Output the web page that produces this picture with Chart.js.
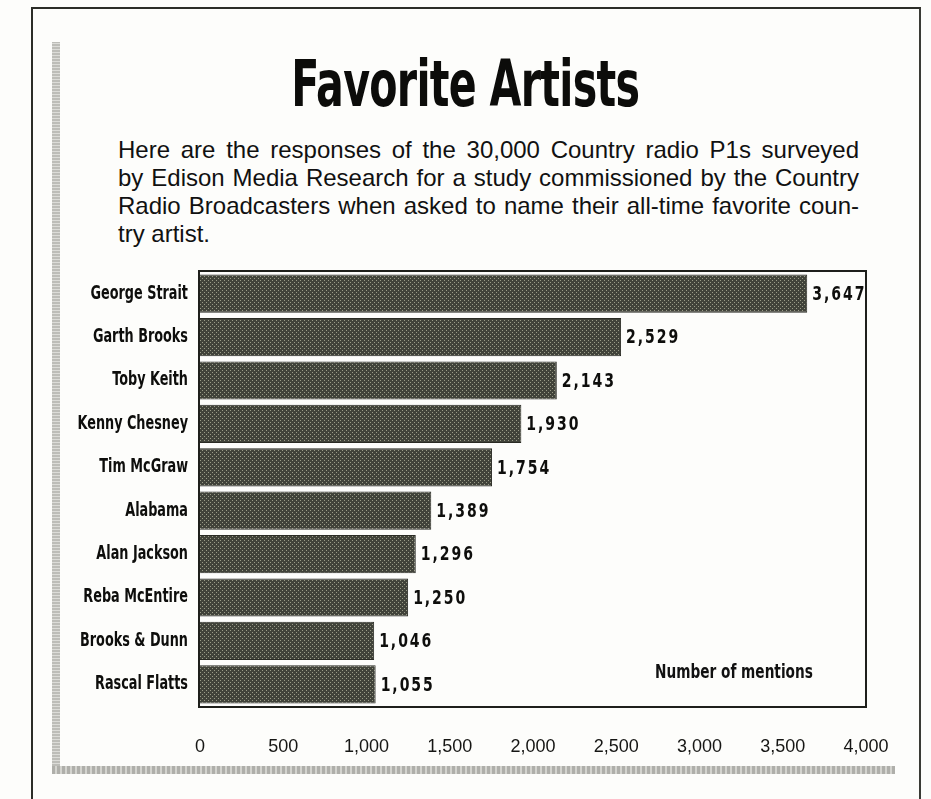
<!DOCTYPE html>
<html>
<head>
<meta charset="utf-8">
<script src="https://cdn.jsdelivr.net/npm/chart.js@4/dist/chart.umd.min.js"></script>
<style>
  html, body { margin: 0; padding: 0; background: #fdfdfb; }
  #page { position: relative; width: 931px; height: 799px; overflow: hidden; background: #fdfdfb; }
  #chartBox { position: absolute; left: 0; top: 0; width: 931px; height: 799px; }
  .frame { position: absolute; left: 31px; top: 7px; width: 886px; height: 800px;
           border-top: 2px solid #2c2d28; border-left: 2px solid #2c2d28; border-right: 2px solid #3a3b35; }
  .stripL { position: absolute; left: 52px; top: 42px; width: 8px; height: 730px;
            background: repeating-linear-gradient(0deg, #bdbdb8 0 2px, #dcdcd8 2px 3px); }
  .stripB { position: absolute; left: 52px; top: 766px; width: 843px; height: 8px;
            background: repeating-linear-gradient(90deg, #afafaa 0 3px, #d4d4cf 3px 5px); }
  .title { position: absolute; left: 0; width: 931px; top: 48px; text-align: center;
           font-family: "DejaVu Sans Condensed", sans-serif;
           font-weight: bold; font-size: 64px; line-height: 72px; color: #0c0c0a; }
  .title span { display: inline-block; transform: scaleX(0.715); letter-spacing: -1px; }
  .para { position: absolute; left: 118px; top: 136px; width: 741px;
          font-family: "Liberation Sans", Arial, sans-serif; font-size: 24px; line-height: 28px; color: #111; }
  .para div { text-align: justify; text-align-last: justify; white-space: nowrap; }
  .para div.last { text-align-last: left; }
  .note { position: absolute; left: 655px; top: 660px; transform-origin: 0 0; transform: scaleX(0.8);
          font-family: "DejaVu Sans Condensed", sans-serif;
          font-weight: bold; font-size: 19px; color: #111; white-space: nowrap; }
</style>
</head>
<body>
<div id="page">
  <div class="frame"></div>
  <div class="stripL"></div>
  <div class="stripB"></div>
  <div class="title"><span>Favorite Artists</span></div>
  <div class="para">
    <div>Here are the responses of the 30,000 Country radio P1s surveyed</div>
    <div>by Edison Media Research for a study commissioned by the Country</div>
    <div>Radio Broadcasters when asked to name their all-time favorite coun-</div>
    <div class="last">try artist.</div>
  </div>
  <div id="chartBox"><canvas id="chart" width="931" height="799"></canvas></div>
  <div class="note">Number of mentions</div>
</div>
<script>
  const artists = ['George Strait', 'Garth Brooks', 'Toby Keith', 'Kenny Chesney', 'Tim McGraw',
                   'Alabama', 'Alan Jackson', 'Reba McEntire', 'Brooks & Dunn', 'Rascal Flatts'];
  const mentions = [3647, 2529, 2143, 1930, 1754, 1389, 1296, 1250, 1046, 1055];
  const axisMin = 0;
  const axisMax = 4000;
  const axisStep = 500;

  const condensed = '"DejaVu Sans Condensed", sans-serif';

  // halftone-ish fill like the printed bars
  function halftone() {
    const c = document.createElement('canvas');
    c.width = 4; c.height = 4;
    const g = c.getContext('2d');
    g.fillStyle = '#41433a';
    g.fillRect(0, 0, 4, 4);
    g.fillStyle = '#9a9c88';
    g.fillRect(0, 0, 1, 1);
    g.fillRect(2, 2, 1, 1);
    return g.createPattern(c, 'repeat');
  }

  // narrow text: the print uses a condensed bold face
  function squeezedText(ctx, text, x, y, align, sx) {
    ctx.save();
    ctx.translate(x, y);
    ctx.scale(sx, 1);
    ctx.textAlign = align;
    ctx.fillText(text, 0, 0);
    ctx.restore();
  }

  const plotBorder = {
    id: 'plotBorder',
    afterDraw(chart) {
      const a = chart.chartArea, ctx = chart.ctx;
      ctx.save();
      ctx.strokeStyle = '#1e1f1b';
      ctx.lineWidth = 2;
      ctx.strokeRect(a.left - 1, a.top - 1, a.right - a.left + 1, a.bottom - a.top + 2);
      ctx.restore();
    }
  };

  const artistLabels = {
    id: 'artistLabels',
    afterDraw(chart) {
      const ctx = chart.ctx, y = chart.scales.y;
      ctx.save();
      ctx.font = 'bold 19px ' + condensed;
      ctx.fillStyle = '#0e0e0c';
      ctx.textBaseline = 'middle';
      y.ticks.forEach((t, i) => {
        squeezedText(ctx, y.getLabelForValue(t.value), y.right - 12, y.getPixelForTick(i), 'right', 0.75);
      });
      ctx.restore();
    }
  };

  const valueLabels = {
    id: 'valueLabels',
    afterDatasetsDraw(chart) {
      const ctx = chart.ctx;
      const meta = chart.getDatasetMeta(0);
      ctx.save();
      ctx.font = 'bold 20px ' + condensed;
      ctx.fillStyle = '#0e0e0c';
      ctx.textBaseline = 'middle';
      ctx.letterSpacing = '2.5px';
      meta.data.forEach((bar, i) => {
        squeezedText(ctx, mentions[i].toLocaleString('en-US'), bar.x + 5, bar.y + 1, 'left', 0.78);
      });
      ctx.restore();
    }
  };

  new Chart(document.getElementById('chart'), {
    type: 'bar',
    data: {
      labels: artists,
      datasets: [{
        data: mentions,
        backgroundColor: halftone(),
        borderColor: '#2a2b24',
        borderWidth: 1,
        borderSkipped: 'left',
        barPercentage: 0.88,
        categoryPercentage: 1
      }]
    },
    options: {
      indexAxis: 'y',
      responsive: false,
      animation: false,
      layout: { padding: { left: 0, right: 65, top: 272, bottom: 43 } },
      plugins: { legend: { display: false }, tooltip: { enabled: false } },
      scales: {
        x: {
          min: axisMin, max: axisMax,
          grid: { display: false, drawTicks: false },
          border: { display: false },
          afterFit(s) { s.height = 50; },
          ticks: {
            stepSize: axisStep,
            padding: 30,
            color: '#161614',
            font: { family: '"Liberation Sans", Arial, sans-serif', size: 18 },
            callback: v => v.toLocaleString('en-US')
          }
        },
        y: {
          grid: { display: false, drawTicks: false },
          border: { display: false },
          afterFit(s) { s.width = 200; },
          ticks: { display: false }
        }
      }
    },
    plugins: [plotBorder, artistLabels, valueLabels]
  });
</script>
</body>
</html>
